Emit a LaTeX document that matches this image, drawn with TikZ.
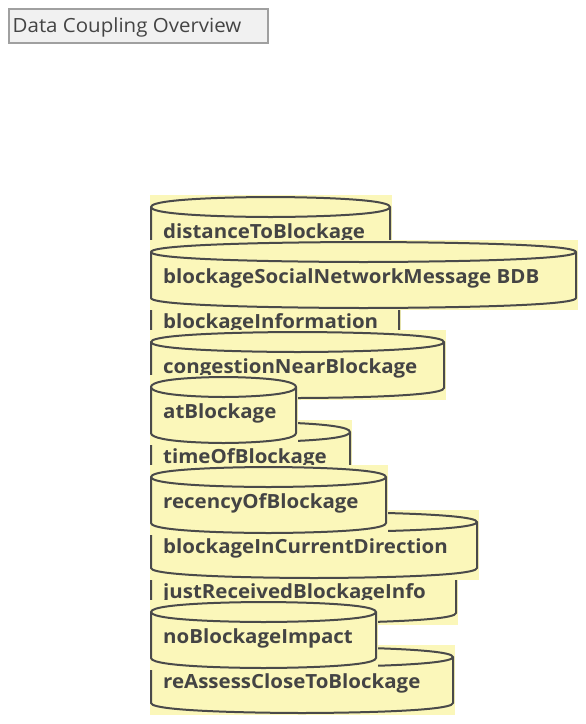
\documentclass[tikz,border=0pt]{standalone}
\usepackage{fontspec}
\setmainfont{Open Sans}[FakeStretch=1.05]
\definecolor{dbfill}{HTML}{FBF7BA}
\definecolor{dbline}{HTML}{4A4A4A}
\definecolor{dbtext}{HTML}{444444}
\definecolor{ttlfill}{HTML}{F1F1F1}
\definecolor{ttlline}{HTML}{A0A0A0}
\tikzset{
  cylline/.style={draw=dbline, line width=2pt},
  dbtxt/.style={text=dbtext, inner sep=0pt, anchor=base west, font=\fontsize{19.5}{21}\selectfont\bfseries},
  ttl/.style={draw=ttlline, fill=ttlfill, line width=1.5pt, minimum width=259pt, minimum height=34pt, inner sep=0pt, anchor=north west},
}
\newcommand\dbcyl[4]{%
  \fill[dbfill] (150,#2-2) rectangle (#3+1.5,#2+68);
  \draw[cylline] (151,#2+10) .. controls (151,#2) and ({(151+#3)/2},#2) .. ({(151+#3)/2},#2)
     .. controls ({(151+#3)/2},#2) and (#3,#2) .. (#3,#2+10) -- (#3,#2+56)
     .. controls (#3,#2+66) and ({(151+#3)/2},#2+66) .. ({(151+#3)/2},#2+66)
     .. controls ({(151+#3)/2},#2+66) and (151,#2+66) .. (151,#2+56) -- cycle;
  \draw[cylline] (151,#2+10) .. controls (151,#2+20) and ({(151+#3)/2},#2+20) .. ({(151+#3)/2},#2+20)
     .. controls ({(151+#3)/2},#2+20) and (#3,#2+20) .. (#3,#2+10);
  \node[dbtxt] (#1) at (163,#2+41) {#4};
}
\begin{document}
\begin{tikzpicture}[x=1pt,y=-1pt]
\useasboundingbox (0,0) rectangle (586,724);
\node[ttl] (title) at (8,8) {};
\node[text=dbtext, inner sep=0pt, anchor=base west, font=\fontsize{19.5}{21}\selectfont] (titletext) at (12.5,32.5) {Data Coupling Overview};
\dbcyl{distanceToBlockage}{197}{390}{distanceToBlockage}
\dbcyl{blockageInformation}{287}{399}{blockageInformation}
\dbcyl{blockageSocialNetworkMessage}{242}{576}{blockageSocialNetworkMessage BDB}
\dbcyl{congestionNearBlockage}{332}{444}{congestionNearBlockage}
\dbcyl{timeOfBlockage}{422}{350}{timeOfBlockage}
\dbcyl{atBlockage}{377}{296}{atBlockage}
\dbcyl{justReceivedBlockageInfo}{557}{456}{justReceivedBlockageInfo}
\dbcyl{blockageInCurrentDirection}{512}{477}{blockageInCurrentDirection}
\dbcyl{recencyOfBlockage}{467}{386}{recencyOfBlockage}
\dbcyl{reAssessCloseToBlockage}{647}{453}{reAssessCloseToBlockage}
\dbcyl{noBlockageImpact}{602}{376}{noBlockageImpact}
\end{tikzpicture}
\end{document}
